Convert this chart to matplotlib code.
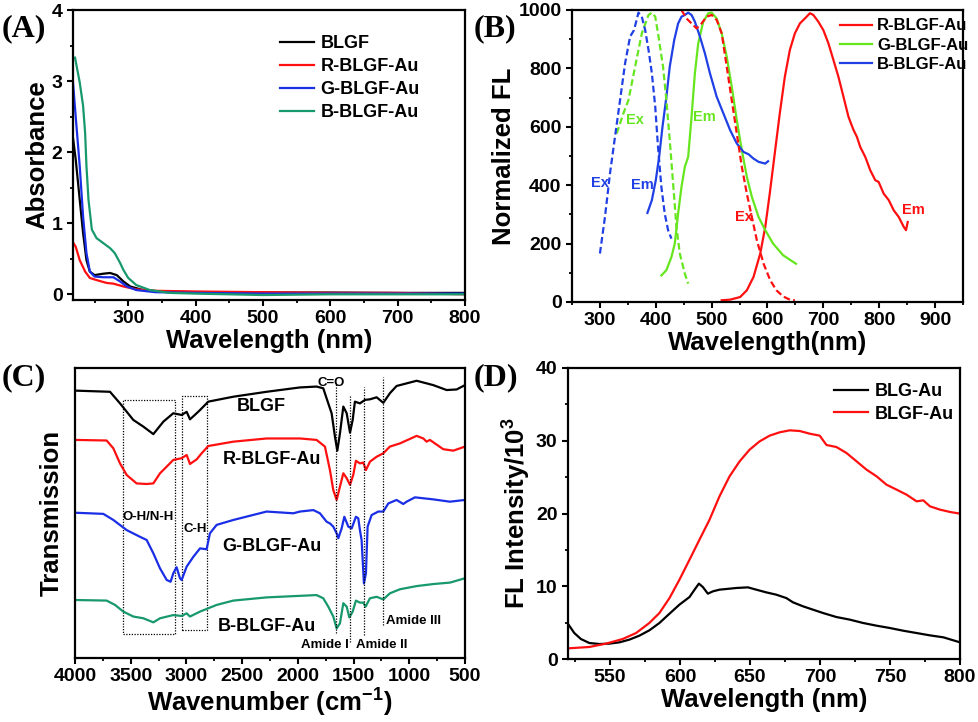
import matplotlib
matplotlib.use("Agg")
import matplotlib.pyplot as plt
from matplotlib.ticker import MultipleLocator, NullLocator
from matplotlib.patches import Rectangle

plt.rcParams['font.family'] = ['Liberation Sans', 'DejaVu Sans']
plt.rcParams['font.weight'] = 'bold'
plt.rcParams['mathtext.fontset'] = 'custom'
plt.rcParams['mathtext.rm'] = 'Liberation Sans:bold'
plt.rcParams['mathtext.bf'] = 'Liberation Sans:bold'
plt.rcParams['mathtext.default'] = 'bf'

# ---------------- Panel A: UV-vis absorbance ----------------
a_black_x = [218, 222, 228, 233, 238, 243, 250, 263, 273, 283, 293, 303, 322, 350, 400, 500, 600, 700, 800]
a_black_y = [2.2, 1.9, 1.33, 0.86, 0.48, 0.32, 0.27, 0.29, 0.30, 0.27, 0.18, 0.11, 0.06, 0.04, 0.03, 0.025, 0.025, 0.02, 0.02]
a_red_x = [218, 222, 228, 236, 243, 253, 268, 278, 293, 312, 337, 400, 500, 600, 700, 800]
a_red_y = [0.73, 0.67, 0.48, 0.32, 0.23, 0.20, 0.16, 0.15, 0.11, 0.07, 0.05, 0.04, 0.03, 0.02, 0.02, 0.0]
a_blue_x = [218, 222, 228, 233, 238, 243, 250, 263, 278, 288, 298, 312, 340, 400, 500, 600, 700, 800]
a_blue_y = [2.98, 2.5, 1.8, 1.09, 0.58, 0.32, 0.25, 0.24, 0.24, 0.18, 0.11, 0.06, 0.03, 0.02, 0.01, 0.01, 0.01, 0.01]
a_green_x = [221, 228, 233, 236, 238, 241, 246, 253, 263, 273, 280, 288, 293, 300, 312, 332, 362, 400, 500, 600, 700, 800]
a_green_y = [3.33, 2.98, 2.65, 2.27, 1.8, 1.33, 0.91, 0.79, 0.72, 0.65, 0.58, 0.44, 0.34, 0.23, 0.13, 0.06, 0.02, 0.01, -0.01, 0.0, 0.0, 0.0]
a_labels = ['BLGF', 'R-BLGF-Au', 'G-BLGF-Au', 'B-BLGF-Au']

# ---------------- Panel B: normalized FL ----------------
b_bex_x = [300, 309, 318, 327, 336, 345, 354, 361, 369, 375, 381, 387, 393, 399, 404, 410, 416, 422, 428]
b_bex_y = [166, 291, 440, 566, 691, 817, 909, 931, 991, 977, 931, 863, 783, 669, 531, 394, 303, 246, 217]
b_gex_x = [330, 342, 351, 363, 375, 387, 393, 399, 404, 413, 419, 425, 431, 437, 443, 452, 458]
b_gex_y = [577, 646, 691, 806, 920, 983, 991, 977, 920, 806, 691, 554, 406, 257, 166, 97, 63]
b_bem_x = [385, 393, 400, 406, 412, 419, 425, 433, 440, 446, 452, 458, 464, 470, 479, 488, 497, 509,
           521, 533, 545, 557, 566, 575, 584, 590, 596, 601]
b_bem_y = [305, 349, 417, 497, 600, 703, 806, 897, 954, 977, 983, 991, 983, 960, 909, 851, 783, 703,
           646, 589, 543, 514, 506, 491, 480, 477, 474, 482]
b_gem_x = [410, 419, 428, 434, 440, 446, 452, 458, 464, 470, 476, 485, 494, 500, 509, 518, 527, 536,
           545, 554, 563, 572, 584, 596, 610, 628, 651]
b_gem_y = [91, 109, 154, 200, 303, 394, 463, 497, 634, 783, 886, 960, 989, 991, 971, 920, 840, 737,
           623, 520, 429, 360, 291, 246, 200, 160, 131]
b_rex_x = [446, 455, 464, 473, 482, 491, 500, 509, 518, 527, 536, 545, 554, 563, 572, 581, 593, 605,
           616, 628, 640, 649]
b_rex_y = [1000, 971, 954, 937, 954, 977, 983, 966, 920, 806, 691, 577, 463, 371, 291, 211, 131, 74,
           40, 19, 8, 6]
b_rem_x = [518, 533, 551, 563, 575, 587, 596, 604, 613, 622, 631, 640, 649, 658, 667, 676, 682, 691,
           700, 709, 718, 727, 736, 745, 754, 760, 766, 775, 784, 793, 799, 808, 817, 826, 835, 844, 848, 851]
b_rem_y = [6, 8, 17, 40, 86, 166, 257, 371, 509, 646, 771, 863, 920, 954, 971, 989, 983, 960,
           931, 886, 829, 771, 703, 634, 589, 566, 531, 497, 451, 417, 411, 371, 349, 314, 291, 257, 246, 274]
b_labels = ['R-BLGF-Au', 'G-BLGF-Au', 'B-BLGF-Au']

# ---------------- Panel C: FTIR ----------------
c_blgf_x = [4000, 3686, 3596, 3477, 3387, 3297, 3207, 3118, 3043, 2998, 2968, 2908, 2878, 2804, 2579,
            2280, 1981, 1832, 1772, 1727, 1697, 1667, 1646, 1622, 1592, 1562, 1532, 1508, 1488, 1443,
            1398, 1353, 1293, 1233, 1174, 1114, 934, 785, 665, 575, 500]
c_blgf_y = [92.2, 91.8, 87.8, 82.1, 79.8, 77.2, 81.5, 84.4, 83.8, 84.9, 82.3, 84.4, 85.5, 88.4, 90.1,
            91.8, 93.3, 93.6, 93.0, 87.8, 84.4, 76.3, 71.5, 77.5, 86.7, 84.4, 77.7, 82.1, 88.4, 87.8,
            89.0, 89.2, 89.9, 88.0, 91.3, 93.8, 95.6, 94.1, 92.4, 92.6, 94.1]
c_r_x = [4000, 3716, 3656, 3596, 3536, 3447, 3357, 3297, 3237, 3177, 3118, 3043, 2998, 2968, 2908, 2863,
         2804, 2579, 2280, 1981, 1832, 1757, 1712, 1682, 1652, 1622, 1592, 1562, 1532, 1503, 1479, 1443,
         1413, 1389, 1353, 1293, 1233, 1174, 1084, 934, 874, 845, 815, 695, 605, 500]
c_r_y = [75.2, 75.0, 72.3, 67.1, 63.1, 60.2, 60.0, 60.2, 63.7, 66.0, 68.3, 68.9, 70.0, 66.9, 68.5, 70.6,
         73.1, 74.6, 75.7, 75.7, 75.2, 72.9, 64.8, 57.9, 54.5, 59.1, 63.7, 62.0, 59.7, 63.1, 68.0, 67.1,
         67.4, 64.8, 67.7, 69.4, 70.6, 72.9, 74.0, 76.6, 75.7, 74.6, 75.2, 72.0, 71.5, 72.9]
c_g_x = [4000, 3746, 3656, 3536, 3417, 3357, 3297, 3237, 3177, 3142, 3118, 3088, 3058, 3043, 2998, 2938,
         2878, 2819, 2789, 2729, 2579, 2280, 2041, 1981, 1861, 1802, 1742, 1712, 1682, 1652, 1637, 1607,
         1583, 1547, 1517, 1479, 1458, 1443, 1428, 1407, 1389, 1374, 1338, 1278, 1233, 1188, 1114, 1054,
         1024, 949, 785, 635, 500]
c_g_y = [50.1, 49.7, 47.6, 44.1, 41.8, 40.7, 36.1, 30.9, 26.9, 26.3, 29.2, 31.3, 27.5, 26.9, 31.5, 34.9,
         37.8, 37.5, 43.0, 45.9, 47.6, 50.5, 49.9, 50.5, 51.0, 49.9, 47.0, 46.4, 45.3, 43.0, 41.3, 44.7,
         48.7, 45.3, 44.7, 48.7, 48.2, 44.1, 40.7, 25.7, 29.2, 45.3, 49.3, 50.5, 50.5, 53.3, 54.5, 53.1,
         53.9, 55.4, 54.7, 53.9, 54.5]
c_b_x = [4000, 3716, 3641, 3566, 3477, 3387, 3297, 3237, 3118, 3043, 2998, 2968, 2878, 2729, 2579, 2280,
         1832, 1772, 1727, 1682, 1652, 1622, 1592, 1562, 1538, 1508, 1479, 1443, 1413, 1392, 1353, 1293,
         1233, 1174, 1084, 934, 785, 635, 500]
c_b_y = [20.0, 19.8, 18.3, 16.0, 14.3, 13.7, 12.3, 13.7, 14.8, 14.5, 15.4, 14.3, 16.0, 18.3, 19.8, 20.9,
         21.7, 20.6, 17.7, 14.3, 10.2, 12.0, 18.9, 17.7, 14.0, 16.0, 19.8, 19.1, 19.1, 17.7, 20.6, 21.1,
         20.2, 22.3, 23.7, 24.8, 25.5, 26.0, 27.5]
c_names = ['BLGF', 'R-BLGF-Au', 'G-BLGF-Au', 'B-BLGF-Au']

# ---------------- Panel D: FL intensity ----------------
d_blg_x = [520.4, 524.5, 529.2, 535.2, 542.4, 549.5, 556.7, 563.8, 571.0, 578.1, 585.3, 592.5, 599.6,
           606.8, 610.4, 613.5, 616.3, 619.9, 623.5, 628.2, 633.0, 640.2, 648.5, 654.5, 661.6, 668.8,
           675.9, 680.7, 687.9, 695.0, 702.2, 711.7, 721.3, 730.8, 740.4, 749.9, 759.4, 769.0, 778.5,
           788.1, 800]
d_blg_y = [4.72, 3.57, 2.75, 2.20, 2.06, 2.11, 2.29, 2.66, 3.21, 3.94, 4.95, 6.23, 7.47,
           8.52, 9.53, 10.36, 9.90, 8.98, 9.30, 9.53, 9.62, 9.76, 9.85, 9.53, 9.16, 8.84,
           8.38, 7.79, 7.24, 6.78, 6.32, 5.77, 5.41, 4.95, 4.58, 4.26, 3.89, 3.57, 3.25,
           2.98, 2.29]
d_blgf_x = [520.4, 535.2, 547.1, 559.1, 568.6, 578.1, 585.3, 592.5, 599.6, 606.8, 613.9, 621.1, 628.2,
            635.4, 642.6, 649.7, 656.9, 664.0, 671.2, 678.3, 685.5, 692.7, 699.8, 704.6, 711.7, 718.9,
            726.1, 733.2, 740.4, 747.5, 754.7, 761.8, 769.0, 773.8, 778.5, 785.7, 792.9, 800]
d_blgf_y = [1.47, 1.65, 2.11, 2.75, 3.57, 4.95, 6.32, 8.38, 10.90, 13.65, 16.40, 19.15, 22.36,
            25.11, 27.17, 28.77, 29.92, 30.70, 31.16, 31.43, 31.34, 30.97, 30.70, 29.42, 29.14, 28.32,
            27.17, 26.03, 25.11, 23.96, 23.28, 22.59, 21.67, 21.81, 20.99, 20.53, 20.21, 19.98]
d_labels = ['BLG-Au', 'BLGF-Au']

RED = '#ff1010'
BLUE_A = '#1a2ee6'
GREEN_A = '#17996b'
GREEN_B = '#66e61e'
BLUE_B = '#2040e6'

TICK_FS = 14
LAB_FS = 18.5
LW = 1.6

fig = plt.figure(figsize=(9.79, 7.22), dpi=100)
W, H = 979.0, 722.0


def mkax(l, t, r, b):
    return fig.add_axes([l / W, 1 - b / H, (r - l) / W, (b - t) / H])


def style(ax):
    for s in ax.spines.values():
        s.set_linewidth(1.6)
    ax.tick_params(which='major', direction='out', length=4.5, width=1.5, labelsize=TICK_FS,
                   top=False, right=False, pad=3)
    ax.tick_params(which='minor', direction='out', length=2.5, width=1.3, top=False, right=False)


# ---- A ----
axA = mkax(73, 10, 465, 300)
axA.plot(a_black_x, a_black_y, color='black', lw=LW, label=a_labels[0])
axA.plot(a_red_x, a_red_y, color=RED, lw=LW, label=a_labels[1])
axA.plot(a_blue_x, a_blue_y, color=BLUE_A, lw=LW, label=a_labels[2])
axA.plot(a_green_x, a_green_y, color=GREEN_A, lw=LW, label=a_labels[3])
axA.set_xlim(218, 800)
axA.set_ylim(-0.08, 4)
axA.xaxis.set_major_locator(MultipleLocator(100))
axA.xaxis.set_minor_locator(MultipleLocator(50))
axA.yaxis.set_major_locator(MultipleLocator(1))
axA.yaxis.set_minor_locator(MultipleLocator(0.5))
axA.set_xticks([300, 400, 500, 600, 700, 800])
axA.set_xlabel('Wavelength (nm)', fontsize=LAB_FS, fontweight='bold', labelpad=1)
axA.set_ylabel('Absorbance', fontsize=LAB_FS, fontweight='bold', labelpad=2)
style(axA)
axA.legend(loc='upper left', bbox_to_anchor=(0.505, 0.945), frameon=False,
           handlelength=1.9, handletextpad=0.35, labelspacing=0.33, borderpad=0,
           prop={'weight': 'bold', 'size': 13})

# ---- B ----
axB = mkax(572, 10, 963, 302)
axB.plot(b_rem_x, b_rem_y, color=RED, lw=LW, label=b_labels[0])
axB.plot(b_gem_x, b_gem_y, color=GREEN_B, lw=LW, label=b_labels[1])
axB.plot(b_bem_x, b_bem_y, color=BLUE_B, lw=LW, label=b_labels[2])
axB.plot(b_rex_x, b_rex_y, color=RED, lw=LW, ls=(0, (3, 1.5)))
axB.plot(b_gex_x, b_gex_y, color=GREEN_B, lw=LW, ls=(0, (3, 1.5)))
axB.plot(b_bex_x, b_bex_y, color=BLUE_B, lw=LW, ls=(0, (3, 1.5)))
axB.set_xlim(250, 950)
axB.set_ylim(0, 1000)
axB.xaxis.set_major_locator(MultipleLocator(100))
axB.xaxis.set_minor_locator(MultipleLocator(50))
axB.yaxis.set_major_locator(MultipleLocator(200))
axB.yaxis.set_minor_locator(MultipleLocator(100))
axB.set_xticks([300, 400, 500, 600, 700, 800, 900])
axB.set_xlabel('Wavelength(nm)', fontsize=LAB_FS, fontweight='bold', labelpad=1)
axB.set_ylabel('Normalized FL', fontsize=LAB_FS, fontweight='bold', labelpad=2)
style(axB)
axB.legend(loc='upper left', bbox_to_anchor=(0.665, 1.0), frameon=False,
           handlelength=1.9, handletextpad=0.3, labelspacing=0.26, borderpad=0,
           prop={'weight': 'bold', 'size': 12})
tfs = 10.5
axB.text(300, 408, 'Ex', color=BLUE_B, fontsize=tfs, fontweight='bold', ha='center', va='center')
axB.text(363, 625, 'Ex', color=GREEN_B, fontsize=tfs, fontweight='bold', ha='center', va='center')
axB.text(376, 400, 'Em', color=BLUE_B, fontsize=tfs, fontweight='bold', ha='center', va='center')
axB.text(487, 634, 'Em', color=GREEN_B, fontsize=tfs, fontweight='bold', ha='center', va='center')
axB.text(557, 291, 'Ex', color=RED, fontsize=tfs, fontweight='bold', ha='center', va='center')
axB.text(862, 314, 'Em', color=RED, fontsize=tfs, fontweight='bold', ha='center', va='center')

# ---- C ----
axC = mkax(75, 368, 465, 658)
axC.plot(c_blgf_x, c_blgf_y, color='black', lw=LW)
axC.plot(c_r_x, c_r_y, color=RED, lw=LW)
axC.plot(c_g_x, c_g_y, color=BLUE_A, lw=LW)
axC.plot(c_b_x, c_b_y, color=GREEN_A, lw=LW)
axC.set_xlim(4000, 500)
axC.set_ylim(0, 100)
axC.xaxis.set_major_locator(MultipleLocator(500))
axC.xaxis.set_minor_locator(MultipleLocator(250))
axC.yaxis.set_major_locator(NullLocator())
axC.yaxis.set_minor_locator(NullLocator())
axC.set_xlabel('Wavenumber (cm$^{-1}$)', fontsize=LAB_FS, fontweight='bold', labelpad=1)
axC.set_ylabel('Transmission', fontsize=LAB_FS, fontweight='bold', labelpad=8)
style(axC)
dot = dict(edgecolor='black', facecolor='none', lw=0.9, ls=(0, (1, 1.2)))
axC.add_patch(Rectangle((3566, 8.3), 3103 - 3566, 89.0 - 8.3, **dot))
axC.add_patch(Rectangle((3043, 9.7), 2813 - 3043, 90.3 - 9.7, **dot))
for xv, y0, y1 in [(1658, 8.7, 94.5), (1532, 5.5, 90.8), (1404, 7.9, 93.6), (1239, 11.4, 97.0)]:
    axC.plot([xv, xv], [y0, y1], color='black', lw=0.9, ls=(0, (1, 1.2)))
cfs = 13
axC.text(2325, 86.7, c_names[0], fontsize=cfs, fontweight='bold', ha='center', va='center')
axC.text(2235, 68.3, c_names[1], fontsize=cfs, fontweight='bold', ha='center', va='center')
axC.text(2235, 38.4, c_names[2], fontsize=cfs, fontweight='bold', ha='center', va='center')
axC.text(2280, 10.8, c_names[3], fontsize=cfs, fontweight='bold', ha='center', va='center')
sfs = 9.5
axC.text(3342, 48.7, 'O-H/N-H', fontsize=sfs, fontweight='bold', ha='center', va='center')
axC.text(2923, 44.6, 'C-H', fontsize=sfs, fontweight='bold', ha='center', va='center')
axC.text(1697, 94.9, 'C=O', fontsize=sfs, fontweight='bold', ha='center', va='center')
axC.text(1757, 4.5, 'Amide I', fontsize=sfs, fontweight='bold', ha='center', va='center')
axC.text(1248, 4.5, 'Amide II', fontsize=sfs, fontweight='bold', ha='center', va='center')
axC.text(964, 12.9, 'Amide III', fontsize=sfs, fontweight='bold', ha='center', va='center')

# ---- D ----
axD = mkax(568, 368, 960, 659)
axD.plot(d_blg_x, d_blg_y, color='black', lw=LW, label=d_labels[0])
axD.plot(d_blgf_x, d_blgf_y, color=RED, lw=LW, label=d_labels[1])
axD.set_xlim(520, 800)
axD.set_ylim(0, 40)
axD.xaxis.set_major_locator(MultipleLocator(50))
axD.xaxis.set_minor_locator(MultipleLocator(25))
axD.yaxis.set_major_locator(MultipleLocator(10))
axD.yaxis.set_minor_locator(MultipleLocator(5))
axD.set_xlabel('Wavelength (nm)', fontsize=LAB_FS, fontweight='bold', labelpad=1)
axD.set_ylabel('FL Intensity/10$^{3}$', fontsize=LAB_FS, fontweight='bold', labelpad=2)
style(axD)
axD.legend(loc='upper left', bbox_to_anchor=(0.655, 0.98), frameon=False,
           handlelength=1.9, handletextpad=0.35, labelspacing=0.33, borderpad=0,
           prop={'weight': 'bold', 'size': 13})

# panel labels
pl = dict(fontsize=23, fontweight='bold', family=['Liberation Serif', 'DejaVu Serif'], va='center', ha='left')
fig.text(2 / W, 1 - 29 / H, '(A)', **pl)
fig.text(474 / W, 1 - 29 / H, '(B)', **pl)
fig.text(2 / W, 1 - 378 / H, '(C)', **pl)
fig.text(474 / W, 1 - 378 / H, '(D)', **pl)

fig.canvas.draw()
for ax in (axA, axB, axC, axD):
    for lab in ax.get_xticklabels() + ax.get_yticklabels():
        lab.set_fontweight('bold')

fig.savefig('out.png', dpi=100)
